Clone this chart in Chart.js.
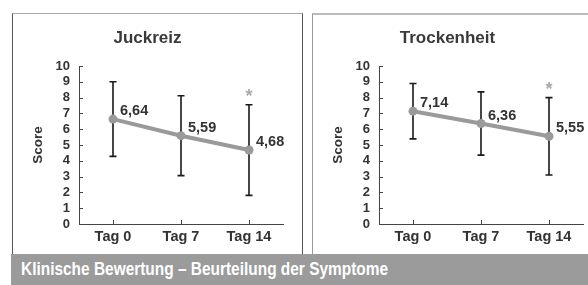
<!DOCTYPE html>
<html>
<head>
<meta charset="utf-8">
<script src="https://cdn.jsdelivr.net/npm/chart.js@4"></script>
<style>
  html, body { margin: 0; padding: 0; background: #fff; }
  body { width: 588px; height: 285px; position: relative; overflow: hidden; }
  .panel { position: absolute; top: 13px; height: 241px; box-sizing: border-box; }
  #panelLeft { left: 12px; width: 291px; border-left: 1px solid #555; border-right: 1px solid #555; border-top: 1px solid #aaa; }
  #panelRight { left: 312px; width: 300px; border-left: 1px solid #999; border-top: 2px solid #bbb; }
  .wrap { position: absolute; top: 13px; width: 290px; height: 241px; }
  #footer { position: absolute; left: 11px; top: 254px; width: 577px; height: 31px; background: #9b9b9b;
    padding-left: 10px; box-sizing: border-box; white-space: nowrap; overflow: hidden; }
  #footer span { display: inline-block; color: #fff; font: bold 18px "Liberation Sans", Arial, sans-serif;
    line-height: 31px; transform-origin: 0 50%; }
</style>
</head>
<body>
<div class="panel" id="panelLeft"></div>
<div class="panel" id="panelRight"></div>
<div class="wrap" style="left:12px"><canvas id="chartLeft" width="290" height="241"></canvas></div>
<div class="wrap" style="left:312px"><canvas id="chartRight" width="290" height="241"></canvas></div>
<div id="footer"><span></span></div>
<script>
const days = ['Tag 0', 'Tag 7', 'Tag 14'];
const juckreizMean = [6.64, 5.59, 4.68];
const juckreizSd = [2.36, 2.53, 2.87];
const juckreizSig = ['', '', '*'];
const trockenMean = [7.14, 6.36, 5.55];
const trockenSd = [1.75, 2.0, 2.45];
const trockenSig = ['', '', '*'];
const footerText = 'Klinische Bewertung – Beurteilung der Symptome';

// footer text is condensed in the original, squeeze it horizontally
const footerSpan = document.querySelector('#footer span');
footerSpan.textContent = footerText;
footerSpan.style.transform = `scaleX(${367 / footerSpan.offsetWidth})`;

const FONT = '"Liberation Sans", Arial, Helvetica, sans-serif';

const decor = {
  id: 'decor',
  beforeDatasetsDraw(chart, args, opts) {
    const { ctx, scales: { x, y } } = chart;
    ctx.save();
    // inward ticks
    ctx.strokeStyle = '#444';
    ctx.lineWidth = 1;
    ctx.beginPath();
    for (let v = 0; v <= 10; v++) {
      const py = Math.round(y.getPixelForValue(v)) + 0.5;
      ctx.moveTo(x.left, py); ctx.lineTo(x.left + 4, py);
    }
    days.forEach((d, i) => {
      const px = Math.round(x.getPixelForValue(i)) + 0.5;
      ctx.moveTo(px, y.bottom); ctx.lineTo(px, y.bottom - 4);
    });
    ctx.stroke();
    // error bars
    ctx.strokeStyle = '#1a1a1a';
    ctx.lineWidth = 1.6;
    ctx.beginPath();
    opts.mean.forEach((m, i) => {
      const px = x.getPixelForValue(i);
      const top = y.getPixelForValue(m + opts.sd[i]);
      const bot = y.getPixelForValue(m - opts.sd[i]);
      ctx.moveTo(px, top); ctx.lineTo(px, bot);
      ctx.moveTo(px - 3.5, top); ctx.lineTo(px + 3.5, top);
      ctx.moveTo(px - 3.5, bot); ctx.lineTo(px + 3.5, bot);
    });
    ctx.stroke();
    ctx.restore();
  },
  afterDatasetsDraw(chart, args, opts) {
    const { ctx, scales: { x, y } } = chart;
    ctx.save();
    ctx.font = 'bold 14.5px ' + FONT;
    ctx.fillStyle = '#333';
    ctx.textAlign = 'left';
    ctx.textBaseline = 'middle';
    opts.mean.forEach((m, i) => {
      const px = x.getPixelForValue(i);
      const py = y.getPixelForValue(m);
      ctx.fillText(m.toFixed(2).replace('.', ','), px + 7, py - 8);
    });
    ctx.font = 'bold 18px ' + FONT;
    ctx.fillStyle = '#aaa';
    ctx.textAlign = 'center';
    opts.sig.forEach((s, i) => {
      if (!s) return;
      const px = x.getPixelForValue(i);
      const top = y.getPixelForValue(opts.mean[i] + opts.sd[i]);
      ctx.fillText(s, px, top - 8);
    });
    ctx.restore();
  }
};

function makeChart(id, title, mean, sd, sig) {
  return new Chart(document.getElementById(id), {
    type: 'line',
    data: {
      labels: days,
      datasets: [{
        data: mean,
        borderColor: '#9a9a9a',
        backgroundColor: '#9a9a9a',
        borderWidth: 4,
        pointRadius: 4.5,
        pointBorderWidth: 0,
        tension: 0,
      }],
    },
    options: {
      responsive: false,
      animation: false,
      layout: { padding: { left: 0, right: 19, top: 0, bottom: 0 } },
      plugins: {
        legend: { display: false },
        tooltip: { enabled: false },
        title: {
          display: true, text: title, color: '#3a3a3a',
          font: { family: FONT, size: 17, weight: 'bold' },
          padding: { top: 14.8, bottom: 17.8 },
        },
        decor: { mean, sd, sig },
      },
      scales: {
        x: {
          offset: true,
          grid: { display: true, drawOnChartArea: false, drawTicks: false },
          border: { display: true, color: '#444', width: 1 },
          ticks: { color: '#333', padding: 4, font: { family: FONT, size: 14.5, weight: 'bold' } },
          afterFit: s => { s.height = 30; },
        },
        y: {
          min: 0, max: 10,
          grid: { display: true, drawOnChartArea: false, drawTicks: false },
          border: { display: true, color: '#444', width: 1 },
          ticks: { stepSize: 1, autoSkip: false, color: '#333', padding: 9, font: { family: FONT, size: 13, weight: 'bold' } },
          title: { display: true, text: 'Score', color: '#333', padding: { top: 18, bottom: 0 },
            font: { family: FONT, size: 13.5, weight: 'bold' } },
          afterFit: s => { s.width = 67; },
        },
      },
    },
    plugins: [decor],
  });
}

makeChart('chartLeft', 'Juckreiz', juckreizMean, juckreizSd, juckreizSig);
makeChart('chartRight', 'Trockenheit', trockenMean, trockenSd, trockenSig);
</script>
</body>
</html>
